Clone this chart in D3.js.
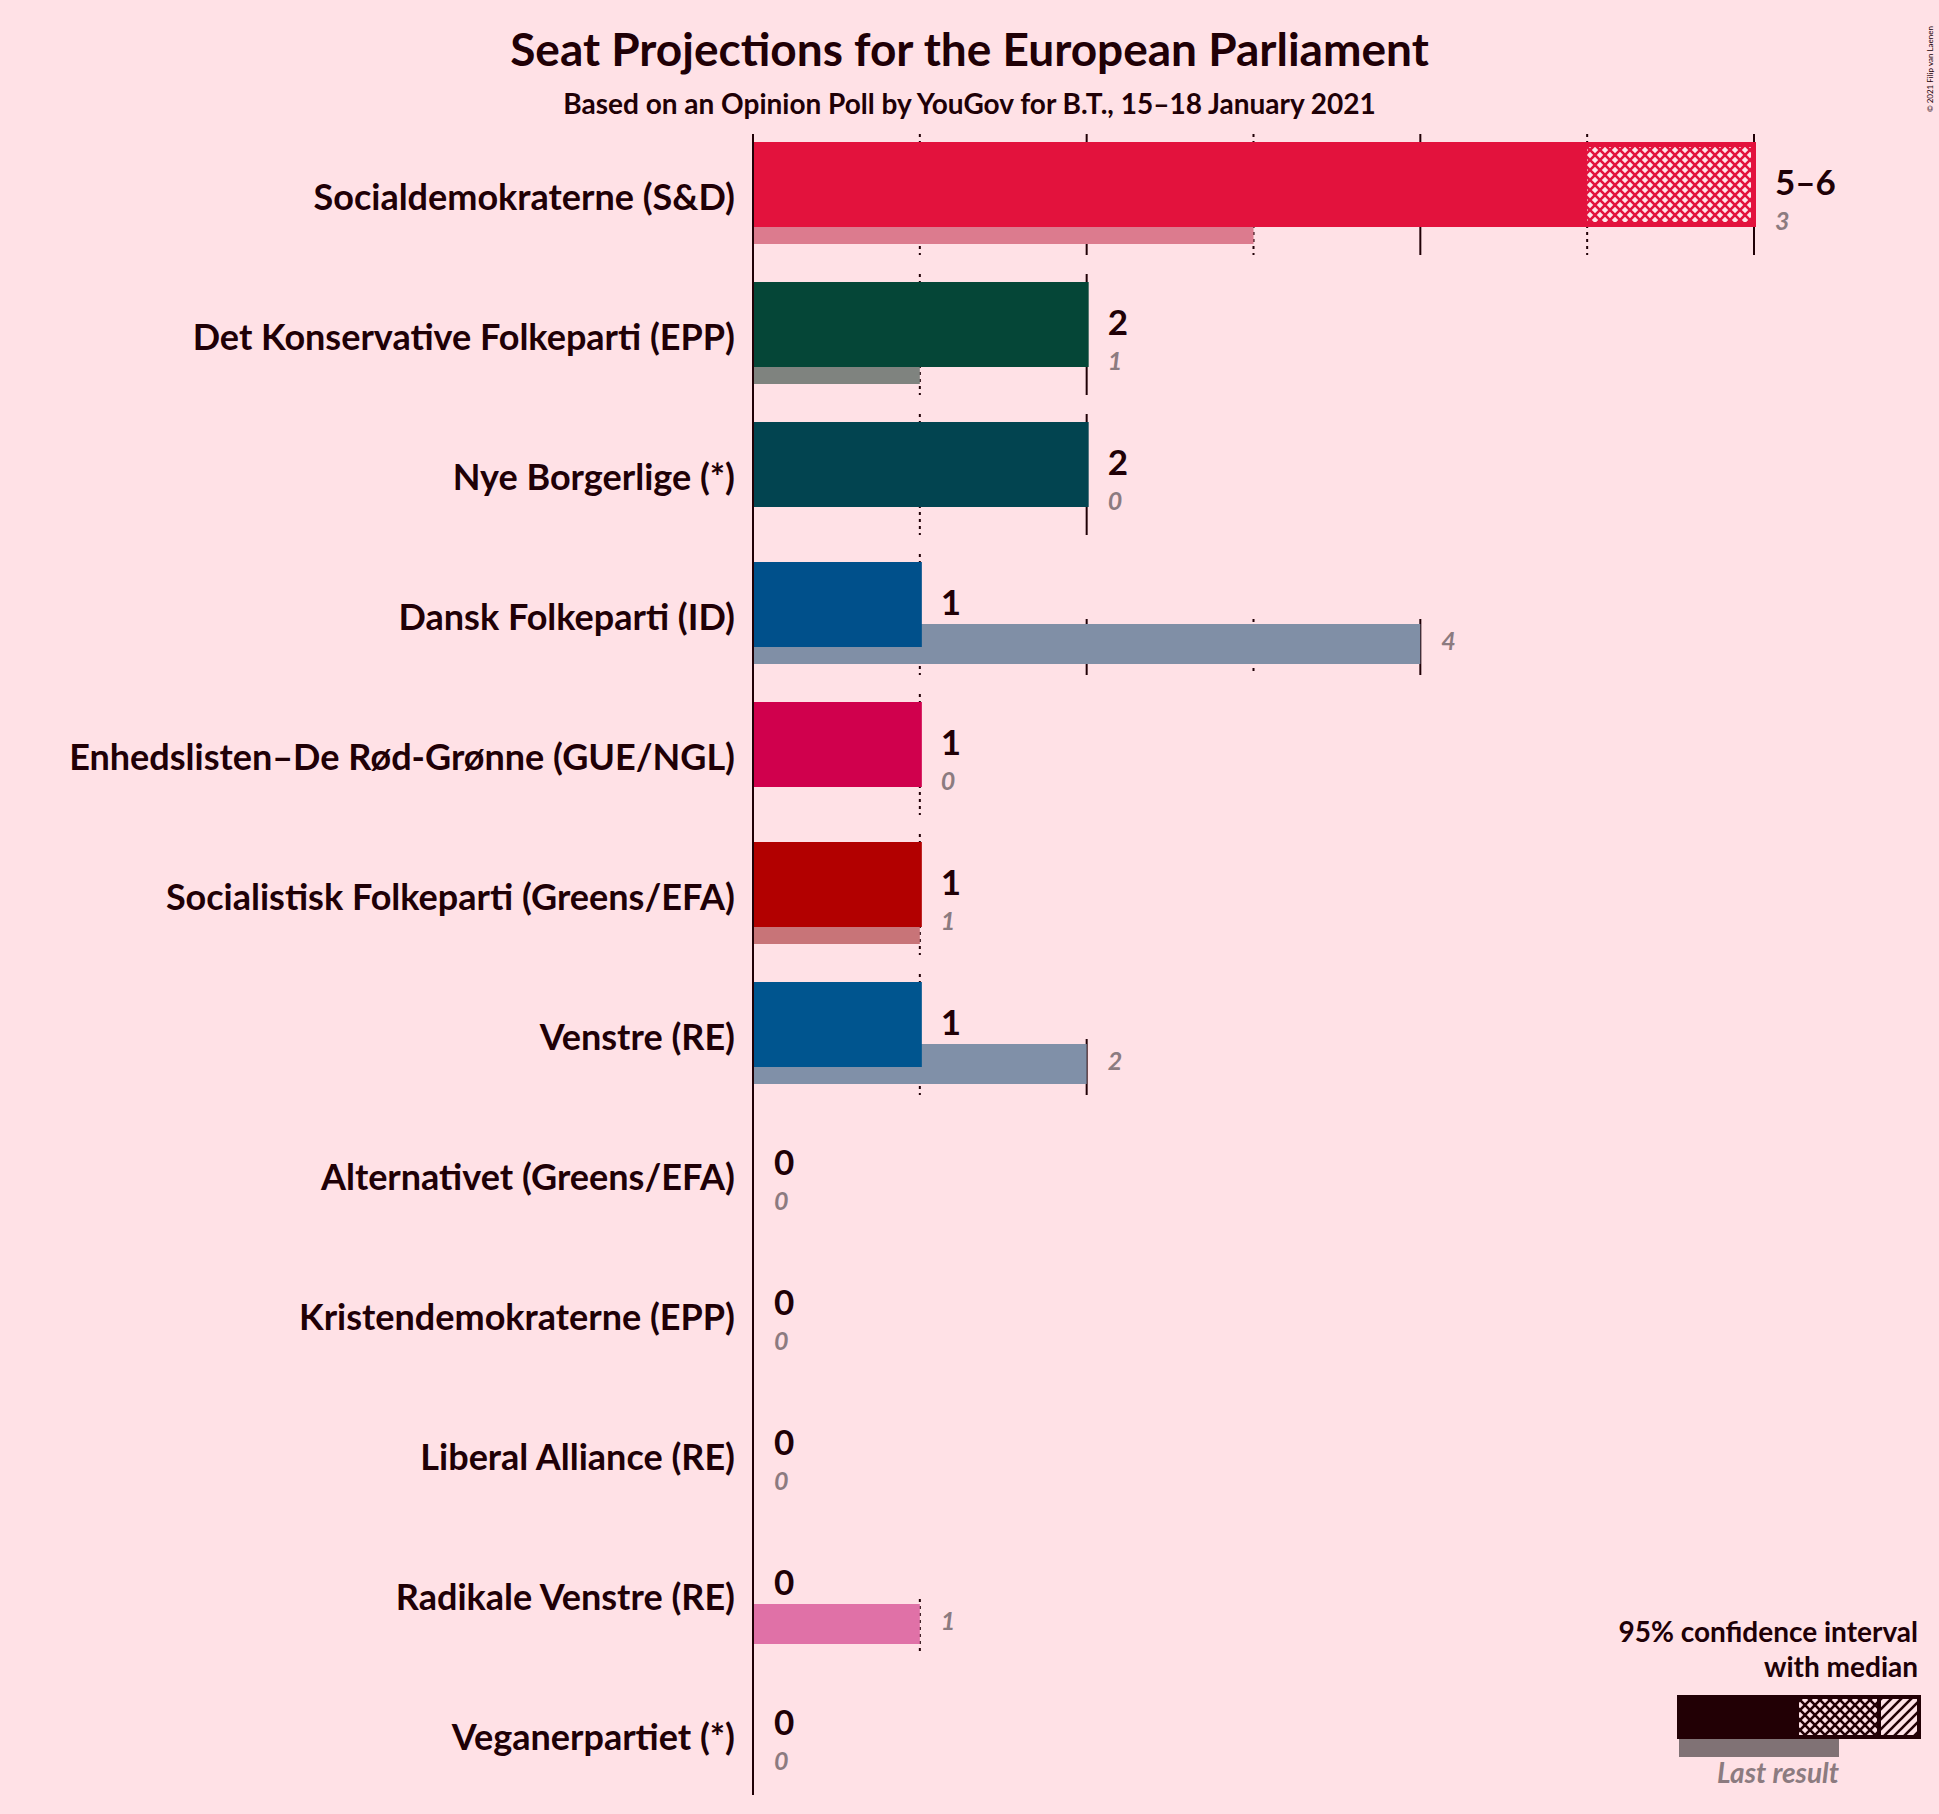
<!DOCTYPE html>
<html>
<head>
<meta charset="utf-8">
<script src="https://cdn.jsdelivr.net/npm/d3@7"></script>
<style>
  body { margin: 0; background: #ffe1e6; }
  svg { display: block; font-family: Lato, "Open Sans", sans-serif; }
</style>
</head>
<body>
<div id="chart"></div>
<script>
// seat projections
var parties = [
  "Socialdemokraterne (S&D)",
  "Det Konservative Folkeparti (EPP)",
  "Nye Borgerlige (*)",
  "Dansk Folkeparti (ID)",
  "Enhedslisten–De Rød-Grønne (GUE/NGL)",
  "Socialistisk Folkeparti (Greens/EFA)",
  "Venstre (RE)",
  "Alternativet (Greens/EFA)",
  "Kristendemokraterne (EPP)",
  "Liberal Alliance (RE)",
  "Radikale Venstre (RE)",
  "Veganerpartiet (*)"
];
var ciLow      = [5, 2, 2, 1, 1, 1, 1, 0, 0, 0, 0, 0];
var medians    = [6, 2, 2, 1, 1, 1, 1, 0, 0, 0, 0, 0];
var ciHigh     = [6, 2, 2, 1, 1, 1, 1, 0, 0, 0, 0, 0];
var lastResult = [3, 1, 0, 4, 0, 1, 2, 0, 0, 0, 1, 0];
var partyColors = ["#e3123d", "#054637", "#024450", "#00508b", "#d0004d", "#b20000",
                   "#00558f", "#2b8738", "#f1a200", "#12b6cc", "#e0209a", "#7fb03a"];
var lastColors  = ["#dc7b8e", "#7f837f", "#7f8c91", "#808fa6", "#e07ba0", "#c87478",
                   "#8090a8", "#90b498", "#f0c880", "#88d0dc", "#e071a7", "#b0cc90"];
var ticks = [0, 1, 2, 3, 4, 5, 6];

var W = 1939, H = 1814;
var ink = "#200006";
var greyText = "#8c7b80";

var svg = d3.select("#chart").append("svg")
  .attr("width", W).attr("height", H);

svg.append("rect").attr("width", W).attr("height", H).attr("fill", "#ffe1e6");

var defs = svg.append("defs");
function crossHatch(id, col, bg) {
  var p = defs.append("pattern").attr("id", id)
    .attr("patternUnits", "userSpaceOnUse").attr("width", 10).attr("height", 10);
  p.append("rect").attr("width", 10).attr("height", 10).attr("fill", bg);
  p.append("path").attr("d", "M-2,-2L12,12M12,-2L-2,12")
    .attr("stroke", col).attr("stroke-width", 2.6);
}
crossHatch("hatch-sd", partyColors[0], "#fde6ea");
crossHatch("hatch-legend", "#220005", "#ffe1e6");
var diag = defs.append("pattern").attr("id", "diag-legend")
  .attr("patternUnits", "userSpaceOnUse").attr("width", 10).attr("height", 10);
diag.append("rect").attr("width", 10).attr("height", 10).attr("fill", "#ffe1e6");
diag.append("path").attr("d", "M-5,5L5,-5M0,10L10,0M5,15L15,5")
  .attr("stroke", "#220005").attr("stroke-width", 2.6);

var x = d3.scaleLinear().domain([0, 6]).range([753, 1754]);
var rowTop = d3.scaleLinear().domain([0, parties.length - 1]).range([142, 1682]);
var barH = 85;

var rows = parties.map(function(p, i) {
  return { name: p, low: ciLow[i], med: medians[i], high: ciHigh[i],
           last: lastResult[i], col: partyColors[i], lastCol: lastColors[i], top: rowTop(i) };
});

// grid lines behind the bars
var grid = svg.append("g");
rows.forEach(function(d) {
  var maxV = Math.max(d.high, d.last);
  ticks.filter(function(t) { return t <= maxV; }).forEach(function(t) {
    var y1 = t <= d.high ? d.top - 8 : d.top + 57;
    grid.append("line")
      .attr("x1", x(t)).attr("x2", x(t))
      .attr("y1", y1).attr("y2", d.top + barH + 28)
      .attr("stroke", ink).attr("stroke-width", 2)
      .attr("stroke-dasharray", t % 2 === 1 ? "3,4" : null);
  });
});

// last result bars
svg.append("g").selectAll("rect")
  .data(rows.filter(function(d) { return d.last > 0; }))
  .enter().append("rect")
  .attr("x", x(0) + 1)
  .attr("y", function(d) { return d.top + 62; })
  .attr("width", function(d) { return x(d.last) - x(0) - 1; })
  .attr("height", 40)
  .attr("fill", function(d) { return d.lastCol; });

// projection bars
var bars = svg.append("g");
rows.filter(function(d) { return d.high > 0; }).forEach(function(d) {
  bars.append("rect")
    .attr("x", x(0) - 1).attr("y", d.top)
    .attr("width", x(d.high) - x(0) + 3).attr("height", barH)
    .attr("fill", d.col);
  if (d.low < d.high) {
    bars.append("rect")
      .attr("x", x(d.low)).attr("y", d.top + 5)
      .attr("width", x(d.high) - x(d.low) - 3).attr("height", barH - 10)
      .attr("fill", "url(#hatch-sd)");
  }
});

// axis line at zero
svg.append("line")
  .attr("x1", x(0)).attr("x2", x(0))
  .attr("y1", rowTop(0) - 8).attr("y2", rowTop(parties.length - 1) + barH + 28)
  .attr("stroke", ink).attr("stroke-width", 2);

// party labels
svg.append("g").selectAll("text")
  .data(rows).enter().append("text")
  .attr("x", 735)
  .attr("y", function(d) { return d.top + 68; })
  .attr("text-anchor", "end")
  .attr("font-size", 36).attr("font-weight", 700)
  .attr("fill", ink)
  .text(function(d) { return d.name; });

// value labels
var vl = svg.append("g");
rows.forEach(function(d) {
  vl.append("text")
    .attr("x", x(d.high) + 21).attr("y", d.top + 53)
    .attr("font-size", 35).attr("font-weight", 700).attr("fill", ink)
    .text(d.low === d.high ? d.low : d.low + "–" + d.high);
  vl.append("text")
    .attr("x", x(Math.max(d.high, d.last)) + 21).attr("y", d.top + 88)
    .attr("font-size", 25).attr("font-weight", 700).attr("font-style", "italic")
    .attr("fill", greyText)
    .text(d.last);
});

// titles
svg.append("text")
  .attr("x", W / 2).attr("y", 66)
  .attr("text-anchor", "middle")
  .attr("font-size", 46).attr("font-weight", 700).attr("fill", ink)
  .text("Seat Projections for the European Parliament");
svg.append("text")
  .attr("x", W / 2).attr("y", 114)
  .attr("text-anchor", "middle")
  .attr("font-size", 28).attr("font-weight", 700).attr("fill", ink)
  .text("Based on an Opinion Poll by YouGov for B.T., 15–18 January 2021");

svg.append("text")
  .attr("transform", "translate(1933,112) rotate(-90)")
  .attr("font-size", 8).attr("fill", ink)
  .text("© 2021 Filip van Laenen");

// legend
var lg = svg.append("g");
lg.append("text")
  .attr("x", 1918).attr("y", 1642).attr("text-anchor", "end")
  .attr("font-size", 28).attr("font-weight", 700).attr("fill", ink)
  .text("95% confidence interval");
lg.append("text")
  .attr("x", 1918).attr("y", 1677).attr("text-anchor", "end")
  .attr("font-size", 28).attr("font-weight", 700).attr("fill", ink)
  .text("with median");
lg.append("rect")
  .attr("x", 1679).attr("y", 1739).attr("width", 160).attr("height", 18)
  .attr("fill", "#807275");
lg.append("rect")
  .attr("x", 1677).attr("y", 1695).attr("width", 244).attr("height", 44)
  .attr("fill", "#220005");
lg.append("rect")
  .attr("x", 1799).attr("y", 1699).attr("width", 78).attr("height", 36)
  .attr("fill", "url(#hatch-legend)");
lg.append("rect")
  .attr("x", 1881).attr("y", 1699).attr("width", 36).attr("height", 36)
  .attr("fill", "url(#diag-legend)");
lg.append("text")
  .attr("x", 1778).attr("y", 1783).attr("text-anchor", "middle")
  .attr("font-size", 28).attr("font-weight", 700).attr("font-style", "italic")
  .attr("fill", greyText)
  .text("Last result");
</script>
</body>
</html>
